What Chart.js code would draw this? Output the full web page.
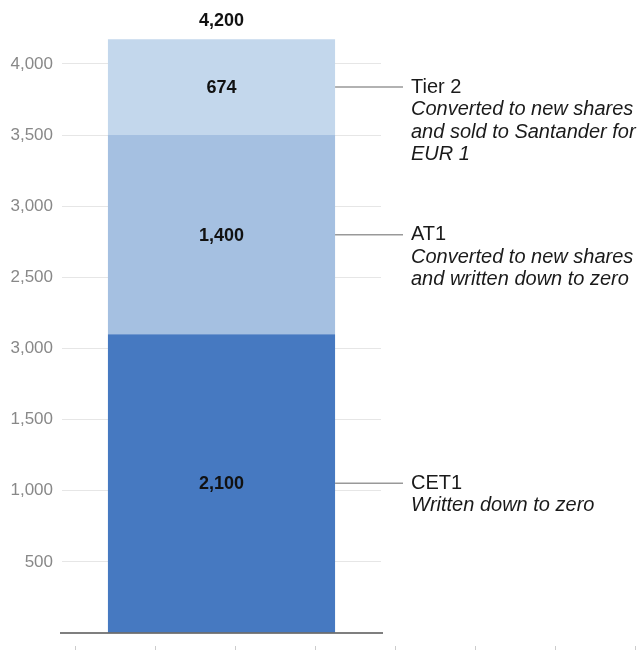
<!DOCTYPE html>
<html>
<head>
<meta charset="utf-8">
<script src="https://cdn.jsdelivr.net/npm/chart.js@4"></script>
<style>
  html, body { margin: 0; padding: 0; background: #ffffff; }
  #wrap { width: 639px; height: 650px; position: relative; }
</style>
</head>
<body>
<div id="wrap"><canvas id="c"></canvas></div>
<script>
// ---- data ----
const categories = ['Capital'];
const seriesNames = ['CET1', 'AT1', 'Tier 2'];
const cet1Values = [2100];
const at1Values = [1400];
const tier2Values = [674];
const totalLabel = '4,200';
const yTickValues = [0, 500, 1000, 1500, 2000, 2500, 3000, 3500, 4000];
const yTickLabels = ['', '500', '1,000', '1,500', '3,000', '2,500', '3,000', '3,500', '4,000'];
const seriesNotes = [
  ['Written down to zero'],
  ['Converted to new shares', 'and written down to zero'],
  ['Converted to new shares', 'and sold to Santander for', 'EUR 1']
];

// ---- styles ----
const colors = ['#4679c1', '#a5c0e1', '#c3d7ec'];
const FONT = '"Liberation Sans", Arial, Helvetica, sans-serif';

const annotate = {
  id: 'annotate',
  afterDatasetsDraw(chart) {
    const ctx = chart.ctx;
    const area = chart.chartArea;
    const yScale = chart.scales.y;
    // baseline
    const y0 = yScale.getPixelForValue(0);
    ctx.save();
    ctx.strokeStyle = '#555555';
    ctx.lineWidth = 1.5;
    ctx.beginPath();
    ctx.moveTo(area.left - 2, y0);
    ctx.lineTo(area.right + 2, y0);
    ctx.stroke();

    let topY = null, barX = null;
    chart.data.datasets.forEach((ds, i) => {
      const el = chart.getDatasetMeta(i).data[0];
      const cy = (el.y + el.base) / 2;
      barX = el.x;
      if (topY === null || el.y < topY) topY = el.y;
      // value label
      ctx.fillStyle = '#111111';
      ctx.font = 'bold 18px ' + FONT;
      ctx.textAlign = 'center';
      ctx.textBaseline = 'middle';
      ctx.fillText(ds.data[0].toLocaleString('en-US'), el.x, cy + 1);
      // leader line
      const right = el.x + el.width / 2;
      ctx.strokeStyle = '#999999';
      ctx.lineWidth = 1.5;
      ctx.beginPath();
      ctx.moveTo(right, cy);
      ctx.lineTo(area.right + 22, cy);
      ctx.stroke();
      // text
      const tx = area.right + 30;
      ctx.textAlign = 'left';
      ctx.fillStyle = '#1a1a1a';
      ctx.font = '20px ' + FONT;
      ctx.fillText(ds.label, tx, cy);
      ctx.font = 'italic 20px ' + FONT;
      seriesNotes[i].forEach((line, j) => {
        ctx.fillText(line, tx, cy + 22.5 * (j + 1));
      });
    });
    // total label
    ctx.fillStyle = '#111111';
    ctx.font = 'bold 18px ' + FONT;
    ctx.textAlign = 'center';
    ctx.textBaseline = 'middle';
    ctx.fillText(totalLabel, barX, topY - 18);

    // small ticks along the bottom
    ctx.strokeStyle = '#cccccc';
    ctx.lineWidth = 1;
    for (let x = area.left + 13; x < chart.width; x += 80) {
      ctx.beginPath();
      ctx.moveTo(x + 0.5, 646);
      ctx.lineTo(x + 0.5, 650);
      ctx.stroke();
    }
    ctx.restore();
  }
};

new Chart(document.getElementById('c'), {
  type: 'bar',
  data: {
    labels: categories,
    datasets: [
      { label: seriesNames[0], data: cet1Values, backgroundColor: colors[0] },
      { label: seriesNames[1], data: at1Values, backgroundColor: colors[1] },
      { label: seriesNames[2], data: tier2Values, backgroundColor: colors[2] }
    ]
  },
  options: {
    responsive: true,
    maintainAspectRatio: false,
    animation: false,
    layout: { padding: { top: 7, right: 258, bottom: 17, left: 0 } },
    plugins: { legend: { display: false }, tooltip: { enabled: false } },
    datasets: { bar: { categoryPercentage: 1, barPercentage: 0.712, borderWidth: 0 } },
    scales: {
      x: { stacked: true, display: false },
      y: {
        stacked: true,
        min: 0,
        max: 4400,
        afterBuildTicks(scale) { scale.ticks = yTickValues.map(v => ({ value: v })); },
        afterFit(scale) {
          scale.width = 62;
          scale.paddingTop = 0;
          scale.paddingBottom = 0;
        },
        border: { display: false },
        grid: {
          drawTicks: false,
          color: (c) => (c.tick && c.tick.value === 0 ? 'rgba(0,0,0,0)' : '#e6e6e6'),
          lineWidth: 1
        },
        ticks: {
          padding: 9,
          color: '#888888',
          font: { family: FONT, size: 17 },
          callback: (v, i) => yTickLabels[i]
        }
      }
    }
  },
  plugins: [annotate]
});
</script>
</body>
</html>
